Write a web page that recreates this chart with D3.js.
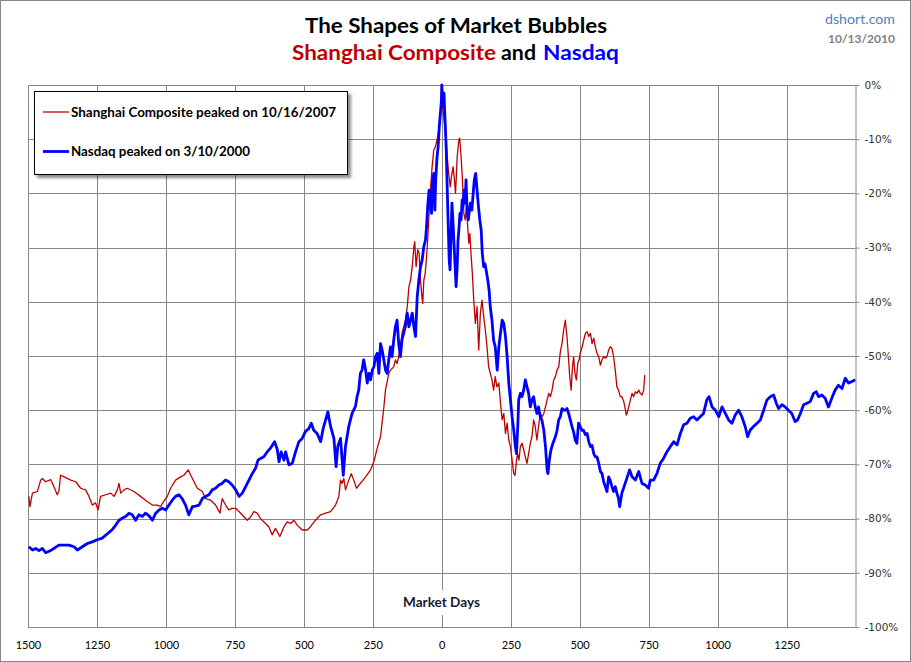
<!DOCTYPE html>
<html><head><meta charset="utf-8">
<script src="https://cdn.jsdelivr.net/npm/d3@7"></script>
<style>body{margin:0;background:#fff}svg{display:block}</style>
</head><body>
<svg id="chart" width="911" height="662"></svg>
<script>
const shanghaiDays = [-1497,-1493,-1484,-1466,-1454,-1448,-1436,-1418,-1406,-1394,-1388,-1382,-1369,-1345,-1327,-1309,-1291,-1279,-1267,-1255,-1246,-1237,-1218,-1200,-1188,-1176,-1170,-1164,-1152,-1140,-1116,-1092,-1067,-1049,-1031,-1019,-1013,-995,-983,-965,-947,-935,-919,-910,-898,-886,-868,-856,-838,-820,-804,-796,-784,-772,-760,-747,-729,-705,-693,-681,-669,-657,-639,-627,-615,-603,-587,-572,-560,-548,-536,-524,-506,-488,-476,-458,-439,-421,-403,-385,-373,-367,-361,-355,-349,-337,-328,-319,-309,-295,-276,-258,-246,-234,-222,-210,-204,-192,-186,-174,-168,-162,-156,-150,-144,-138,-132,-125,-119,-113,-107,-101,-98,-93,-87,-82,-77,-72,-69,-65,-60,-55,-51,-46,-41,-35,-29,-23,-17,-11,-5,-2,0,4,8,13,19,25,31,35,41,46,50,56,62,65,70,75,80,85,90,94,98,102,106,111,116,122,128,134,140,146,152,158,164,170,176,182,188,194,200,207,213,219,225,231,237,243,249,255,261,266,271,275,280,285,291,297,303,309,315,321,327,333,339,345,351,357,364,370,376,382,388,394,400,406,412,418,424,430,436,442,448,454,460,464,469,474,478,483,488,493,498,502,509,515,521,527,533,539,545,551,557,563,569,575,581,587,593,599,605,611,617,623,629,635,641,647,653,660,666,669,672,678,684,690,696,702,708,714,720,726,732,736];
const shanghaiPct = [-75.9,-77.8,-75.3,-75.0,-72.9,-72.6,-73.2,-72.8,-74.1,-75.6,-75.0,-72.0,-72.3,-72.9,-73.2,-74.4,-74.7,-75.9,-77.5,-77.1,-78.4,-75.9,-75.6,-75.3,-75.9,-74.7,-73.5,-75.3,-74.7,-74.4,-75.0,-75.9,-76.9,-77.5,-77.5,-77.8,-77.2,-75.9,-74.4,-72.9,-72.3,-72.0,-71.0,-72.0,-73.2,-74.4,-75.0,-76.3,-76.6,-77.5,-79.0,-76.3,-77.5,-78.4,-78.1,-78.1,-79.0,-80.3,-79.7,-78.7,-79.0,-80.0,-80.9,-81.5,-83.0,-81.8,-83.3,-81.5,-80.6,-80.9,-80.3,-81.2,-82.1,-82.1,-81.5,-80.3,-79.3,-79.0,-78.7,-77.5,-75.9,-72.9,-73.5,-72.6,-74.7,-72.9,-71.7,-72.9,-74.4,-73.5,-72.3,-71.0,-69.5,-67.0,-64.9,-59.5,-56.3,-53.2,-52.6,-52.0,-50.7,-51.4,-50.1,-48.3,-45.8,-44.6,-43.4,-40.9,-37.2,-36.0,-33.5,-29.8,-28.9,-33.5,-30.4,-31.1,-36.0,-39.1,-40.3,-36.0,-34.8,-31.7,-28.6,-23.7,-19.4,-15.1,-12.0,-11.4,-10.1,-8.3,-6.5,-3.0,0,-4.5,-6.0,-8.9,-12.6,-16.3,-18.8,-17.0,-15.1,-17.5,-20.0,-13.2,-10.1,-9.8,-13.2,-17.5,-23.7,-24.9,-22.4,-26.1,-29.2,-27.4,-31.1,-34.8,-39.7,-44.0,-40.9,-48.9,-42.1,-39.7,-42.7,-45.2,-48.3,-52.0,-53.2,-54.4,-56.3,-53.8,-55.7,-55.0,-58.7,-61.8,-60.6,-64.3,-62.4,-65.5,-66.7,-69.2,-71.7,-72.0,-69.2,-68.0,-69.2,-66.7,-66.1,-67.3,-68.6,-69.8,-68.0,-66.1,-64.9,-61.8,-63.0,-65.5,-63.0,-60.6,-61.2,-60.6,-59.4,-58.1,-56.9,-57.5,-56.3,-54.4,-53.8,-52.6,-52.0,-49.2,-47.7,-45.2,-43.4,-46.4,-50.7,-53.8,-56.3,-52.0,-50.1,-53.2,-54.4,-51.4,-50.7,-49.5,-48.3,-47.0,-45.8,-45.5,-46.4,-45.8,-47.7,-46.7,-48.3,-49.5,-50.1,-51.7,-50.7,-50.1,-50.4,-50.1,-48.9,-48.3,-48.6,-50.1,-52.6,-55.7,-56.3,-57.5,-57.5,-58.4,-60.0,-60.9,-60.6,-59.4,-58.1,-56.9,-57.5,-56.6,-56.9,-56.3,-56.9,-57.2,-56.3,-53.5];

const nasdaqDays = [-1497,-1484,-1472,-1460,-1448,-1436,-1418,-1406,-1388,-1369,-1351,-1333,-1321,-1303,-1285,-1267,-1249,-1231,-1212,-1194,-1182,-1170,-1158,-1146,-1134,-1122,-1110,-1098,-1086,-1074,-1061,-1049,-1037,-1025,-1013,-1001,-989,-977,-965,-953,-941,-929,-917,-904,-892,-880,-868,-856,-844,-832,-820,-808,-796,-784,-772,-760,-747,-735,-723,-711,-699,-687,-675,-666,-657,-645,-633,-621,-606,-596,-590,-582,-572,-566,-554,-542,-530,-518,-506,-494,-482,-473,-464,-452,-439,-430,-421,-413,-403,-391,-383,-377,-367,-357,-349,-337,-325,-313,-307,-301,-295,-289,-283,-276,-270,-264,-258,-252,-246,-240,-234,-228,-222,-216,-210,-204,-198,-192,-186,-180,-174,-168,-162,-156,-150,-144,-138,-132,-125,-119,-113,-107,-101,-95,-89,-83,-77,-71,-65,-59,-55,-51,-46,-41,-37,-34,-29,-25,-22,-17,-13,-9,-5,-1,0,5,8,12,16,19,23,27,30,34,37,41,45,48,52,56,59,63,66,70,74,77,81,85,88,92,96,99,104,109,114,118,123,128,133,138,143,147,152,157,162,167,172,176,182,188,194,201,207,213,219,225,231,237,243,249,255,261,267,271,276,279,285,291,297,303,309,315,321,327,333,339,345,351,357,363,370,376,382,385,390,396,403,412,418,424,430,436,442,448,454,460,466,472,478,484,490,496,502,508,514,521,527,533,539,545,551,557,563,569,575,581,587,593,599,605,611,617,623,629,635,641,645,653,665,681,690,702,714,726,738,750,756,768,780,792,804,816,829,841,853,865,877,889,901,913,925,937,949,961,969,980,992,1004,1016,1028,1040,1052,1064,1076,1088,1100,1109,1118,1130,1143,1155,1167,1179,1191,1203,1213,1221,1233,1245,1257,1269,1281,1290,1300,1312,1324,1336,1348,1358,1366,1378,1390,1402,1414,1426,1438,1451,1463,1475,1487,1499];
const nasdaqPct = [-85.2,-85.8,-85.5,-85.9,-85.5,-86.3,-85.9,-85.5,-84.9,-84.9,-84.9,-85.2,-85.8,-85.2,-84.6,-84.3,-83.9,-83.6,-82.8,-82.0,-81.2,-80.3,-79.9,-79.6,-79.0,-79.3,-80.3,-79.3,-79.6,-79.0,-79.5,-80.3,-79.0,-78.4,-78.1,-78.4,-77.5,-76.6,-75.9,-75.6,-76.3,-77.5,-79.3,-77.8,-77.7,-77.5,-76.3,-75.9,-75.6,-74.7,-74.4,-73.8,-73.5,-72.9,-73.2,-73.8,-74.7,-75.9,-75.3,-74.1,-72.9,-71.7,-70.7,-69.2,-68.9,-68.6,-67.7,-67.0,-65.8,-67.3,-69.5,-67.7,-69.2,-67.7,-70.1,-69.8,-67.7,-65.8,-65.2,-63.9,-63.4,-62.4,-63.7,-64.3,-65.8,-63.4,-61.8,-60.3,-63.0,-65.2,-70.4,-66.7,-65.2,-72.0,-66.7,-63.0,-60.6,-59.3,-57.5,-56.3,-53.2,-52.6,-50.7,-52.6,-55.0,-53.2,-54.4,-52.6,-52.0,-50.1,-49.5,-53.2,-47.7,-48.9,-50.7,-52.6,-53.2,-50.7,-48.3,-50.1,-47.0,-44.6,-43.4,-47.7,-50.1,-47.0,-45.8,-44.6,-42.1,-44.6,-43.4,-42.1,-44.6,-46.4,-39.1,-36.0,-33.5,-32.3,-29.8,-28.6,-26.1,-22.4,-19.4,-20.6,-23.7,-18.1,-16.3,-23.1,-17.5,-13.2,-11.4,-7.7,-5.2,-2.8,0,-4.0,-1.5,-6.5,-11.4,-17.5,-24.9,-32.3,-34.1,-27.4,-21.8,-25.5,-29.8,-32.9,-37.2,-33.5,-28.6,-26.1,-23.7,-24.9,-21.2,-22.4,-19.4,-21.8,-17.5,-23.1,-24.9,-23.7,-21.8,-23.1,-20.0,-17.5,-16.3,-19.4,-22.4,-24.9,-26.8,-31.1,-33.5,-33.0,-34.5,-36.0,-38.0,-41.0,-43.4,-47.1,-48.3,-52.6,-48.3,-45.8,-43.4,-44.0,-46.4,-50.1,-55.0,-58.1,-61.2,-63.7,-66.7,-68.0,-62.4,-58.1,-56.9,-57.5,-56.3,-54.4,-55.7,-56.9,-59.4,-58.1,-57.5,-59.4,-60.6,-59.4,-61.2,-61.8,-63.7,-66.7,-71.0,-71.7,-69.2,-67.3,-66.1,-64.9,-63.7,-61.8,-61.2,-59.7,-60.0,-60.0,-59.7,-60.6,-61.8,-63.0,-64.0,-65.5,-66.1,-62.4,-63.0,-63.7,-63.7,-64.5,-64.3,-65.8,-66.7,-66.5,-68.0,-68.6,-68.6,-69.8,-71.3,-71.7,-73.2,-74.1,-75.0,-72.3,-73.0,-74.1,-75.0,-74.1,-75.3,-76.3,-77.8,-75.3,-73.5,-71.0,-72.3,-72.9,-71.3,-73.5,-73.8,-74.4,-72.9,-72.9,-71.7,-69.8,-68.9,-67.7,-66.7,-65.8,-66.4,-64.3,-62.7,-62.4,-61.5,-61.2,-61.8,-61.2,-60.6,-58.1,-57.5,-59.4,-60.0,-61.2,-59.4,-60.6,-61.8,-62.4,-60.9,-60.0,-61.2,-63.0,-64.9,-63.7,-63.0,-62.4,-61.8,-60.0,-58.1,-57.5,-57.2,-58.7,-59.7,-59.0,-59.4,-60.0,-60.6,-62.1,-61.8,-60.6,-59.0,-58.7,-58.4,-56.9,-56.6,-57.5,-57.2,-57.8,-59.4,-57.8,-56.3,-55.4,-56.0,-54.1,-55.0,-54.7,-54.4];

const xTicks = [-1500,-1250,-1000,-750,-500,-250,0,250,500,750,1000,1250];
const yTicks = [0,-10,-20,-30,-40,-50,-60,-70,-80,-90,-100];
const seriesNames = ["Shanghai Composite peaked on 10/16/2007","Nasdaq peaked on 3/10/2000"];

(function(){
const svg = d3.select("#chart");
const pL = 28, pR = 855.5, pT = 85, pB = 627;
const x = d3.scaleLinear().domain([-1500,1500]).range([pL,pR]);
const y = d3.scaleLinear().domain([-100,0]).range([pB,pT]);
const gridColor = "#888";

const defs = svg.append("defs");
const f = defs.append("filter").attr("id","shadow").attr("x","-10%").attr("y","-10%").attr("width","130%").attr("height","140%");
f.append("feDropShadow").attr("dx",3).attr("dy",3).attr("stdDeviation",1.6).attr("flood-color","#000").attr("flood-opacity",0.45);

svg.append("rect").attr("x",0.5).attr("y",0.5).attr("width",910).attr("height",661)
  .attr("fill","#fff").attr("stroke","#868686");

const grid = svg.append("g");
grid.selectAll("line.h").data(yTicks.filter(d=>d>-100)).join("line")
  .attr("x1",pL).attr("x2",pR)
  .attr("y1",d=>Math.round(y(d))+0.5).attr("y2",d=>Math.round(y(d))+0.5)
  .attr("stroke",gridColor).attr("stroke-width",1);
grid.selectAll("line.v").data(xTicks).join("line")
  .attr("x1",d=>Math.round(x(d))+0.5).attr("x2",d=>Math.round(x(d))+0.5)
  .attr("y1",pT).attr("y2",pB)
  .attr("stroke",gridColor).attr("stroke-width",1);

const xAxis = svg.append("g").attr("transform",`translate(0,${pB+0.5})`)
  .call(d3.axisBottom(x).tickValues(xTicks).tickFormat(d=>Math.abs(d)).tickSize(0).tickPadding(14));
xAxis.select(".domain").attr("stroke",gridColor).attr("d",`M${pL},0H${pR}`);
xAxis.selectAll("text").attr("font-family","Lato, 'Open Sans', sans-serif").attr("font-size",11).attr("fill","#000");

const yAxis = svg.append("g").attr("transform",`translate(${pR},0)`)
  .call(d3.axisRight(y).tickValues(yTicks).tickFormat(d=>d+"%").tickSize(4).tickPadding(5));
yAxis.select(".domain").attr("stroke",gridColor).attr("d",`M0.5,${pT}V${pB}`);
yAxis.selectAll(".tick line").attr("stroke",gridColor);
yAxis.selectAll("text").attr("font-family","'DejaVu Sans', Verdana, sans-serif").attr("font-size",10.5).attr("fill","#333");

svg.append("rect").attr("x",399).attr("y",590).attr("width",84).attr("height",25).attr("fill","#fff");
svg.append("text").attr("x",441.5).attr("y",607).attr("text-anchor","middle")
  .attr("font-family","Lato, sans-serif").attr("font-weight","bold").attr("font-size",12.5)
  .attr("fill","#1a1a33").attr("textLength",77).attr("lengthAdjust","spacingAndGlyphs").text("Market Days");

const line = d3.line().x(d=>x(d[0])).y(d=>y(d[1]));
svg.append("path").datum(d3.zip(shanghaiDays,shanghaiPct)).attr("d",line)
  .attr("fill","none").attr("stroke","#c00000").attr("stroke-width",1.3).attr("stroke-linejoin","round");
svg.append("path").datum(d3.zip(nasdaqDays,nasdaqPct)).attr("d",line)
  .attr("fill","none").attr("stroke","#0000ff").attr("stroke-width",2.8).attr("stroke-linejoin","round");

const lg = svg.append("g");
lg.append("rect").attr("x",34.5).attr("y",91.5).attr("width",313).attr("height",83)
  .attr("fill","#fff").attr("stroke","#000").attr("stroke-width",1).attr("filter","url(#shadow)");
lg.append("line").attr("x1",43).attr("x2",69).attr("y1",112).attr("y2",112).attr("stroke","#c00000").attr("stroke-width",1.3);
lg.append("line").attr("x1",43).attr("x2",69).attr("y1",151.5).attr("y2",151.5).attr("stroke","#0000ff").attr("stroke-width",2.8);
lg.append("text").attr("x",71).attr("y",116.5).attr("font-family","Lato, sans-serif").attr("font-weight","bold")
  .attr("font-size",12.5).attr("fill","#000").attr("textLength",265).attr("lengthAdjust","spacingAndGlyphs").text(seriesNames[0]);
lg.append("text").attr("x",71).attr("y",156).attr("font-family","Lato, sans-serif").attr("font-weight","bold")
  .attr("font-size",12.5).attr("fill","#000").attr("textLength",179).attr("lengthAdjust","spacingAndGlyphs").text(seriesNames[1]);

const tf = "Lato, 'Open Sans', sans-serif";
svg.append("text").attr("x",305).attr("y",32.5).attr("font-family",tf).attr("font-weight","bold").attr("font-size",20)
  .attr("fill","#000").attr("textLength",302).attr("lengthAdjust","spacingAndGlyphs").text("The Shapes of Market Bubbles");
svg.append("text").attr("x",292).attr("y",59.5).attr("font-family",tf).attr("font-weight","bold").attr("font-size",20)
  .attr("fill","#c00000").attr("textLength",204).attr("lengthAdjust","spacingAndGlyphs").text("Shanghai Composite");
svg.append("text").attr("x",501).attr("y",59.5).attr("font-family",tf).attr("font-weight","bold").attr("font-size",20)
  .attr("fill","#000").attr("textLength",35).attr("lengthAdjust","spacingAndGlyphs").text("and");
svg.append("text").attr("x",543).attr("y",59.5).attr("font-family",tf).attr("font-weight","bold").attr("font-size",20)
  .attr("fill","#0000ff").attr("textLength",76).attr("lengthAdjust","spacingAndGlyphs").text("Nasdaq");
svg.append("text").attr("x",895).attr("y",24).attr("text-anchor","end").attr("font-family",tf).attr("font-size",13.5)
  .attr("fill","#4f81bd").attr("textLength",70).attr("lengthAdjust","spacingAndGlyphs").text("dshort.com");
svg.append("text").attr("x",895).attr("y",42.5).attr("text-anchor","end").attr("font-family",tf).attr("font-weight","bold").attr("font-size",12)
  .attr("fill","#808080").attr("textLength",67).attr("lengthAdjust","spacingAndGlyphs").text("10/13/2010");
})();
</script>
</body></html>
